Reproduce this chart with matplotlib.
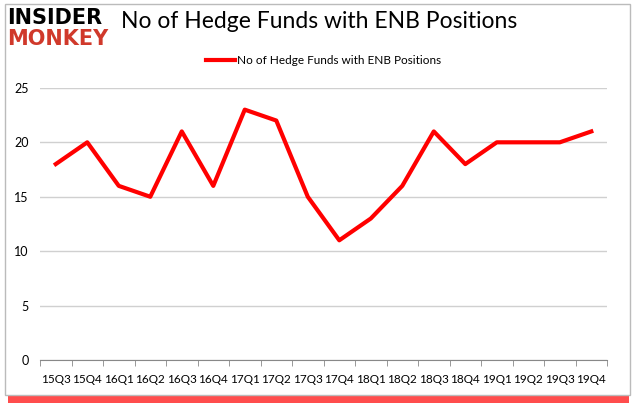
import matplotlib
matplotlib.use('Agg')
import matplotlib.pyplot as plt
from matplotlib.patches import Rectangle

quarters = ['15Q3', '15Q4', '16Q1', '16Q2', '16Q3', '16Q4', '17Q1', '17Q2', '17Q3',
            '17Q4', '18Q1', '18Q2', '18Q3', '18Q4', '19Q1', '19Q2', '19Q3', '19Q4']
funds = [18, 20, 16, 15, 21, 16, 23, 22, 15, 11, 13, 16, 21, 18, 20, 20, 20, 21]
yticks = [0, 5, 10, 15, 20, 25]
series_name = 'No of Hedge Funds with ENB Positions'

plt.rcParams['font.family'] = ['Lato', 'DejaVu Sans']

fig = plt.figure(figsize=(6.35, 4.05), dpi=100)

# red shadow and frame behind the axes
fig.patches.append(Rectangle((0.012, 0.005), 0.978, 0.03, transform=fig.transFigure,
                             facecolor='#ff2020', edgecolor='none', alpha=0.8, zorder=-2))
fig.patches.append(Rectangle((0.008, 0.025), 0.984, 0.965, transform=fig.transFigure,
                             facecolor='white', edgecolor='#bbbbbb', linewidth=1, zorder=-1))

ax = fig.add_axes([0.063, 0.111, 0.893, 0.672])
x = list(range(len(quarters)))
ax.plot(x, funds, color='#ff0000', linewidth=3, label=series_name)
ax.set_xlim(-0.5, len(quarters) - 0.5)
ax.set_ylim(0, 25)
ax.set_yticks(yticks)
ax.set_xticks(x)
ax.set_xticklabels(quarters, fontsize=8.5)
ax.tick_params(axis='y', labelsize=9, length=0, pad=8)
ax.set_xticks([i - 0.5 for i in range(len(quarters) + 1)], minor=True)
ax.tick_params(axis='x', which='minor', length=4, color='#888888')
ax.tick_params(axis='x', which='major', length=0, pad=10)
ax.grid(axis='y', color='#d0d0d0', linewidth=1)
ax.set_axisbelow(True)
for s in ['top', 'right', 'left']:
    ax.spines[s].set_visible(False)
ax.spines['bottom'].set_color('#888888')
ax.patch.set_alpha(0)

ax.legend(loc='upper center', bbox_to_anchor=(0.5, 1.16), frameon=False, fontsize=8.5,
          handlelength=2.5, handletextpad=0.2)

fig.text(0.19, 0.946, 'No of Hedge Funds with ENB Positions', fontsize=16.5, va='center', ha='left')
fig.text(0.012, 0.956, 'INSIDER', fontsize=15, fontweight='heavy', color='black', va='center',
         family='DejaVu Sans')
fig.text(0.012, 0.903, 'MONKEY', fontsize=15, fontweight='heavy', color='#d0392b', va='center',
         family='DejaVu Sans')

fig.savefig('out.png', dpi=100)
